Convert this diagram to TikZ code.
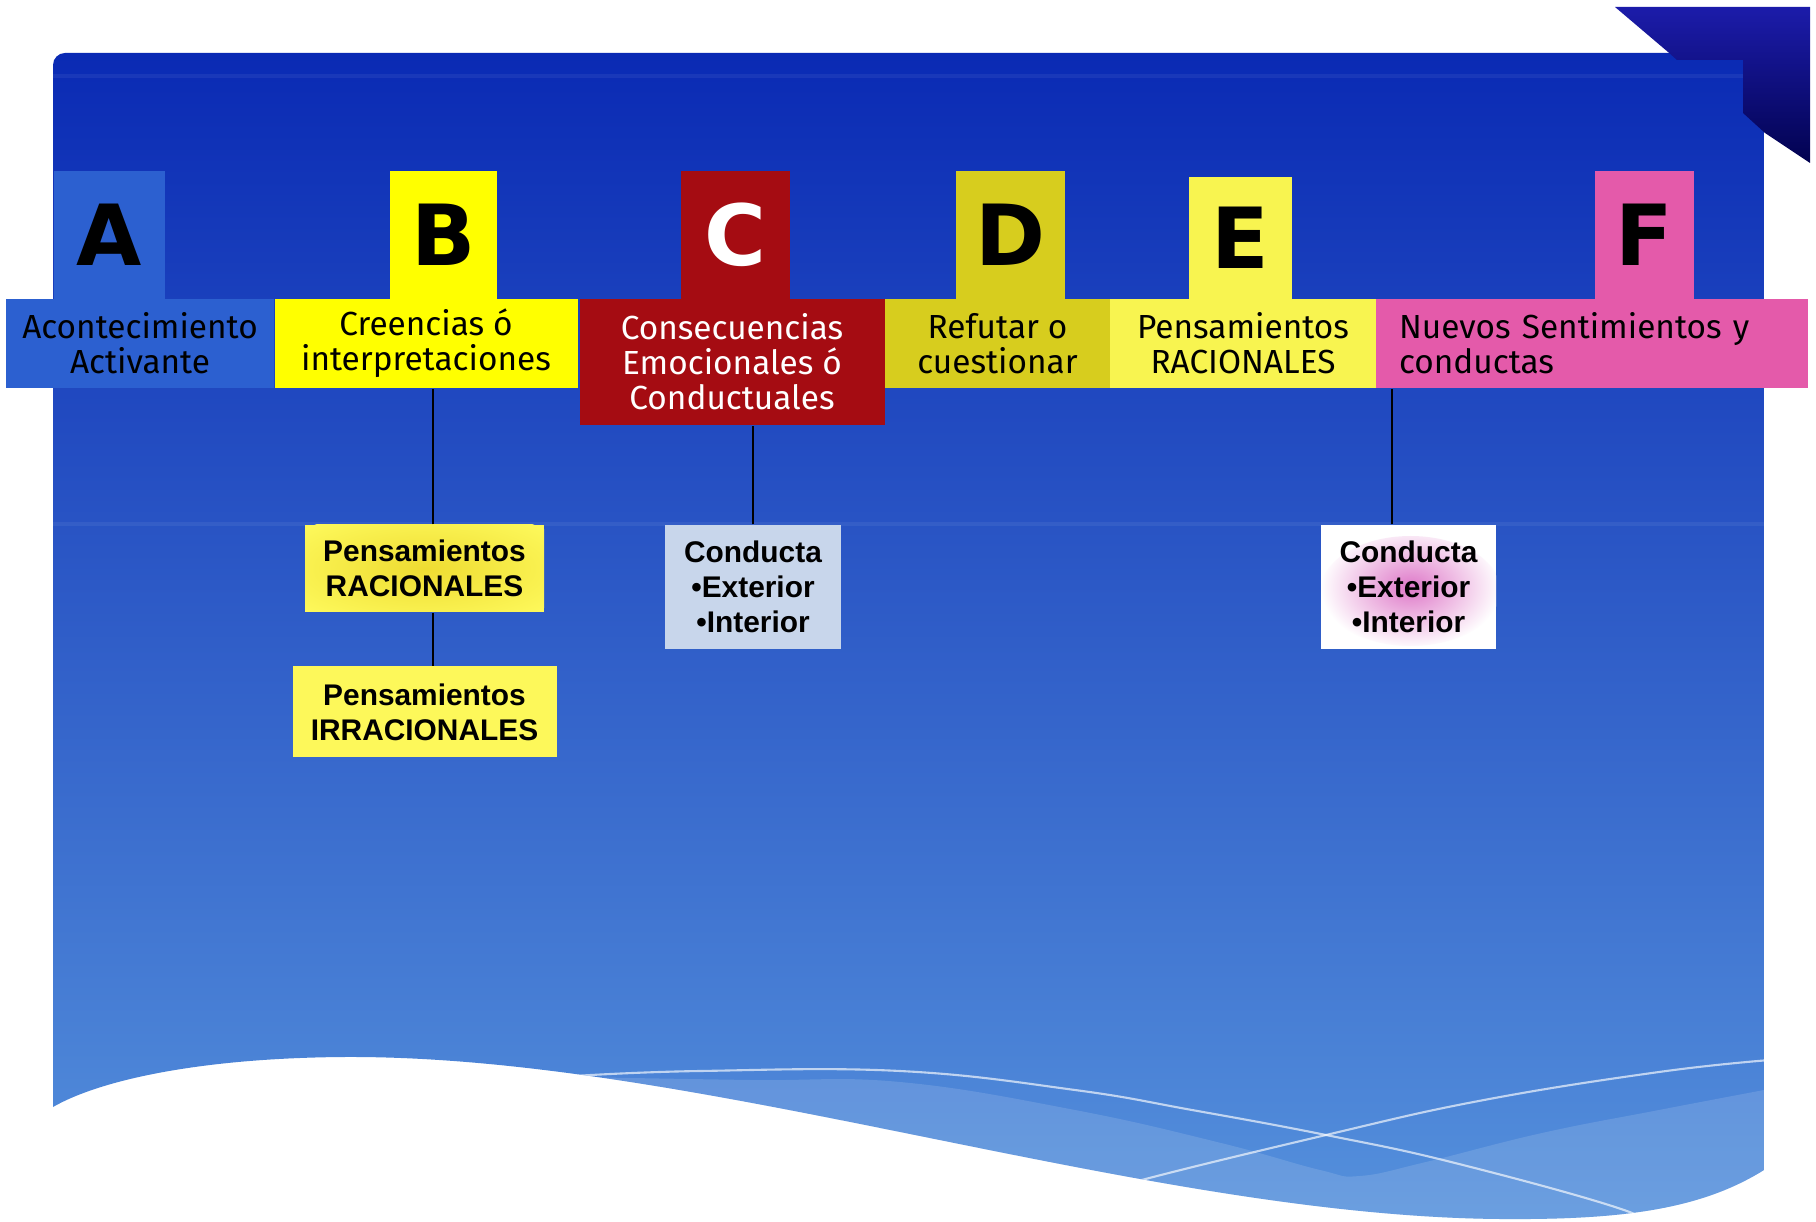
\documentclass[tikz,border=0pt]{standalone}
\usepackage{fontspec}
\usepackage{xcolor}
\usetikzlibrary{positioning}
\newfontfamily\letterfont{DejaVu Sans}
\newfontfamily\headfont{Fira Sans}
\newfontfamily\boxfont{Liberation Sans}
\definecolor{panelTop}{RGB}{10,42,180}
\definecolor{panelMid}{RGB}{40,100,205}
\definecolor{panelBottom}{RGB}{85,145,220}
\definecolor{foldTop}{RGB}{28,28,170}
\definecolor{foldBottom}{RGB}{2,2,80}
\definecolor{aBlue}{RGB}{44,96,208}
\definecolor{bYellow}{RGB}{255,255,0}
\definecolor{cRed}{RGB}{165,12,18}
\definecolor{dYellow}{RGB}{215,205,30}
\definecolor{eYellow}{RGB}{248,244,80}
\definecolor{fPink}{RGB}{228,90,170}
\definecolor{subYellow}{RGB}{253,248,90}
\definecolor{glowYellow}{RGB}{238,220,50}
\definecolor{condBlue}{RGB}{200,214,235}
\definecolor{glowPink}{RGB}{222,120,200}
\newcommand\panelshape{(5.3,110.7) [rounded corners=1.2mm] -- (5.3,5.3) -- (176.4,5.3) [sharp corners] -- (176.4,117.0)
  .. controls (170,121) and (162,122) .. (150,121.9)
  .. controls (114,121.6) and (70,105.5) .. (34.4,105.7)
  .. controls (20,105.8) and (10,108) .. (5.3,110.7) -- cycle}

\begin{document}
\begin{tikzpicture}[x=1mm, y=-1mm,
  letter/.style={rectangle, inner sep=0pt, minimum width=10.7mm, minimum height=12.8mm,
    font=\letterfont\bfseries\fontsize{24}{24}\selectfont},
  headbox/.style={rectangle, inner sep=0pt, align=center, minimum height=8.9mm,
    font=\headfont\fontsize{9.5}{10}\selectfont},
  subbox/.style={rectangle, inner sep=0pt, align=center,
    font=\boxfont\bfseries\fontsize{8.5}{10}\selectfont},
  link/.style={line width=0.7pt, black}]
\useasboundingbox (0,0) rectangle (181.6,122.2);
\fill[white] (0,0) rectangle (181.6,122.2);

\shade[top color=panelTop, middle color=panelMid, bottom color=panelBottom] \panelshape;
\begin{scope}
\clip \panelshape;
\fill[white, opacity=0.13] plot[smooth, tension=0.7] coordinates {(57.4,107.7) (75,108.0) (90,108.2) (107.5,111.0) (122.1,114.3)
  (132.0,117.0) (136.0,117.6) (142.6,116.2) (154.2,113.3) (165.9,111.0) (176.4,109.0)} -- (178,125) -- (55,125) -- cycle;
\draw[white, opacity=0.65, line width=0.6pt] plot[smooth, tension=0.7] coordinates {(57.4,107.6) (70,107.1) (90,107.1) (107.5,109.0)
  (119.2,111.0) (132.6,113.5) (145.5,116.3) (162.4,121.0) (165,123)};
\draw[white, opacity=0.65, line width=0.6pt] plot[smooth, tension=0.7] coordinates {(106,121) (111.6,118.7) (132.6,113.5)
  (148.4,110.0) (165.9,107.2) (177,106.0)};
\draw[white, opacity=0.06, line width=1pt] (5.3,7.6) -- (176.4,7.6);
\draw[white, opacity=0.06, line width=1pt] (5.3,52.4) -- (176.4,52.4);
\end{scope}
\shade[top color=foldTop, bottom color=foldBottom] (161.5,0.7) -- (181.0,0.7) -- (181.0,16.3) -- (176.5,13.3) -- (174.3,11.3)
  -- (174.3,6.0) -- (167.7,6.0) -- (166.8,5.2) -- cycle;

\node[letter, fill=aBlue, minimum width=11.1mm] (la) at (10.95,23.5) {A};
\node[letter, fill=bYellow] (lb) at (44.35,23.5) {B};
\node[letter, fill=cRed, text=white, minimum width=10.9mm] (lc) at (73.55,23.5) {C};
\node[letter, fill=dYellow, minimum width=10.9mm] (ld) at (101.0,23.5) {D};
\node[letter, fill=eYellow, minimum width=10.3mm, minimum height=12.2mm] (le) at (124.05,23.8) {E};
\node[letter, fill=fPink, minimum width=9.9mm] (lf) at (164.45,23.5) {F};

\node[headbox, fill=aBlue, minimum width=26.8mm] (ha) at (14.0,34.35) {Acontecimiento\\Activante};
\node[headbox, fill=bYellow, minimum width=30.3mm] (hb) at (42.6,34.35) {Creencias ó\\interpretaciones};
\node[headbox, fill=cRed, text=white, minimum width=30.5mm, minimum height=12.6mm] (hc) at (73.2,36.2)
  {Consecuencias\\Emocionales ó\\Conductuales};
\node[headbox, fill=dYellow, minimum width=22.5mm] (hd) at (99.75,34.35) {Refutar o\\cuestionar};
\node[headbox, fill=eYellow, minimum width=26.6mm] (he) at (124.3,34.35) {Pensamientos\\RACIONALES};
\node[headbox, fill=fPink, minimum width=43.2mm, text width=38.6mm, align=left, inner xsep=2.3mm] (hf) at (159.2,34.35)
  {Nuevos Sentimientos y\\conductas};

\node[subbox, fill=subYellow, minimum width=23.9mm, minimum height=8.7mm,
  path picture={\shade[inner color=glowYellow, outer color=subYellow] (path picture bounding box.center) ellipse (16mm and 6mm);}]
  (pr) at (42.45,56.85) {Pensamientos\\RACIONALES};
\node[subbox, fill=subYellow, minimum width=26.4mm, minimum height=9.1mm, below=5.3mm of pr] (pi) {Pensamientos\\IRRACIONALES};
\node[subbox, fill=condBlue, minimum width=17.6mm, minimum height=12.4mm] (cc) at (75.3,58.7) {Conducta\\•Exterior\\•Interior};
\node[subbox, fill=white, minimum width=17.5mm, minimum height=12.4mm,
  path picture={\shade[inner color=glowPink, outer color=white] ([xshift=0.2mm,yshift=-0.4mm]path picture bounding box.center) ellipse (9mm and 5.5mm);}]
  (cf) at (140.85,58.7) {Conducta\\•Exterior\\•Interior};

\draw[link] ([xshift=0.85mm]pr.north) -- ([xshift=0.85mm]pr.north |- hb.south);
\draw[link] ([xshift=0.85mm]pr.south) -- ([xshift=0.85mm]pr.south |- pi.north);
\draw[link] (cc.north) -- (cc.north |- hc.south);
\draw[link] ([xshift=-1.65mm]cf.north) -- ([xshift=-1.65mm]cf.north |- hf.south);
\end{tikzpicture}
\end{document}
